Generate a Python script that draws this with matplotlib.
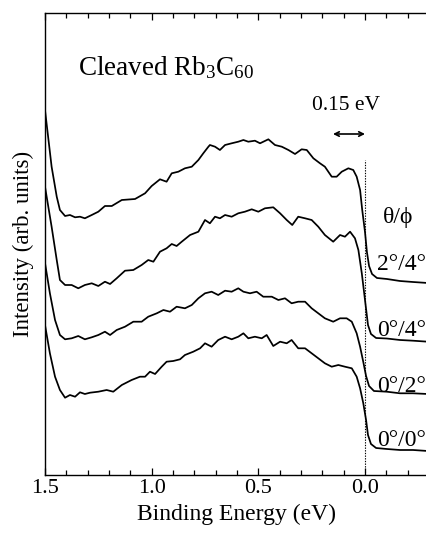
import numpy as np
import matplotlib
matplotlib.use("Agg")
import matplotlib.pyplot as plt
from matplotlib.ticker import MultipleLocator

plt.rcParams['font.family'] = ['Liberation Serif', 'DejaVu Serif']
plt.rcParams['mathtext.fontset'] = 'custom'
plt.rcParams['mathtext.rm'] = 'Liberation Serif'
plt.rcParams['mathtext.it'] = 'Liberation Serif:italic'

# ------------------------------------------------------------
# spectra: binding energy (eV) / intensity (arb.)
# ------------------------------------------------------------
e_24 = [1.500, 1.469, 1.445, 1.430, 1.406, 1.383, 1.359, 1.336, 1.313, 1.281,
        1.250, 1.219, 1.187, 1.140, 1.078, 1.031, 1.000, 0.961, 0.930, 0.906,
        0.875, 0.844, 0.812, 0.781, 0.758, 0.734, 0.727, 0.703, 0.680, 0.656,
        0.625, 0.594, 0.570, 0.547, 0.516, 0.492, 0.453, 0.422, 0.390, 0.359,
        0.328, 0.297, 0.273, 0.242, 0.211, 0.188, 0.156, 0.133, 0.109, 0.078,
        0.055, 0.039, 0.023, 0.013, 0.000, -0.009, -0.019, -0.033, -0.056, -0.103,
        -0.164, -0.225, -0.295]
i_24 = [3.650, 3.083, 2.783, 2.650, 2.590, 2.600, 2.577, 2.583, 2.567, 2.600,
        2.633, 2.690, 2.690, 2.750, 2.760, 2.817, 2.890, 2.957, 2.933, 3.017,
        3.033, 3.067, 3.083, 3.150, 3.217, 3.283, 3.300, 3.283, 3.250, 3.300,
        3.317, 3.333, 3.350, 3.333, 3.343, 3.317, 3.357, 3.300, 3.283, 3.250,
        3.210, 3.257, 3.250, 3.167, 3.117, 3.083, 2.983, 2.983, 3.033, 3.067,
        3.050, 2.983, 2.850, 2.650, 2.430, 2.230, 2.090, 2.010, 1.970, 1.960,
        1.940, 1.930, 1.920]

e_04 = [1.500, 1.469, 1.445, 1.430, 1.406, 1.375, 1.344, 1.313, 1.281, 1.250,
        1.219, 1.195, 1.164, 1.125, 1.086, 1.047, 1.016, 0.992, 0.961, 0.930,
        0.906, 0.883, 0.859, 0.820, 0.781, 0.750, 0.727, 0.703, 0.680, 0.656,
        0.625, 0.594, 0.563, 0.531, 0.500, 0.469, 0.430, 0.398, 0.367, 0.341,
        0.313, 0.281, 0.250, 0.219, 0.188, 0.149, 0.117, 0.094, 0.070, 0.047,
        0.031, 0.015, 0.000, -0.014, -0.028, -0.052, -0.102, -0.164, -0.225, -0.295]
i_04 = [2.883, 2.483, 2.150, 1.950, 1.900, 1.900, 1.867, 1.900, 1.917, 1.890,
        1.933, 1.910, 1.967, 2.043, 2.050, 2.100, 2.150, 2.133, 2.233, 2.267,
        2.310, 2.290, 2.333, 2.400, 2.433, 2.550, 2.517, 2.583, 2.567, 2.600,
        2.583, 2.617, 2.633, 2.657, 2.633, 2.667, 2.677, 2.617, 2.550, 2.500,
        2.583, 2.567, 2.550, 2.483, 2.400, 2.333, 2.400, 2.383, 2.433, 2.367,
        2.250, 2.017, 1.750, 1.500, 1.410, 1.370, 1.365, 1.350, 1.343, 1.333]

e_02 = [1.500, 1.477, 1.453, 1.430, 1.406, 1.375, 1.344, 1.313, 1.281, 1.250,
        1.219, 1.195, 1.164, 1.125, 1.086, 1.047, 1.016, 0.976, 0.945, 0.914,
        0.883, 0.844, 0.812, 0.781, 0.750, 0.719, 0.688, 0.656, 0.625, 0.594,
        0.570, 0.539, 0.508, 0.477, 0.437, 0.406, 0.375, 0.344, 0.313, 0.281,
        0.250, 0.219, 0.188, 0.149, 0.117, 0.086, 0.062, 0.039, 0.023, 0.008,
        -0.005, -0.019, -0.042, -0.102, -0.164, -0.225, -0.295]
i_02 = [2.120, 1.817, 1.550, 1.400, 1.357, 1.367, 1.390, 1.357, 1.377, 1.400,
        1.433, 1.400, 1.450, 1.483, 1.533, 1.533, 1.583, 1.617, 1.650, 1.633,
        1.683, 1.667, 1.700, 1.767, 1.817, 1.833, 1.800, 1.843, 1.833, 1.867,
        1.833, 1.817, 1.833, 1.783, 1.783, 1.750, 1.767, 1.717, 1.733, 1.733,
        1.667, 1.617, 1.567, 1.533, 1.567, 1.567, 1.533, 1.417, 1.283, 1.130,
        0.990, 0.890, 0.840, 0.833, 0.817, 0.817, 0.810]

e_00 = [1.500, 1.477, 1.453, 1.430, 1.406, 1.383, 1.359, 1.336, 1.313, 1.289,
        1.250, 1.211, 1.180, 1.140, 1.094, 1.055, 1.031, 1.008, 0.984, 0.953,
        0.930, 0.899, 0.867, 0.844, 0.805, 0.773, 0.750, 0.719, 0.688, 0.656,
        0.625, 0.594, 0.570, 0.547, 0.516, 0.484, 0.461, 0.430, 0.398, 0.367,
        0.344, 0.313, 0.281, 0.250, 0.219, 0.188, 0.156, 0.125, 0.094, 0.062,
        0.039, 0.023, 0.008, -0.005, -0.014, -0.028, -0.052, -0.103, -0.164, -0.225,
        -0.295]
i_00 = [1.500, 1.217, 0.983, 0.850, 0.773, 0.800, 0.783, 0.827, 0.810, 0.823,
        0.833, 0.850, 0.833, 0.900, 0.950, 0.983, 0.983, 1.033, 1.010, 1.083,
        1.133, 1.140, 1.157, 1.200, 1.233, 1.267, 1.317, 1.283, 1.350, 1.383,
        1.357, 1.383, 1.417, 1.367, 1.383, 1.367, 1.400, 1.290, 1.333, 1.317,
        1.350, 1.267, 1.267, 1.217, 1.167, 1.117, 1.083, 1.100, 1.083, 1.067,
        0.983, 0.867, 0.717, 0.550, 0.400, 0.310, 0.270, 0.260, 0.250, 0.250,
        0.240]

spectra = [(e_24, i_24), (e_04, i_04), (e_02, i_02), (e_00, i_00)]

angle_labels = [r"2°/4°", r"0°/4°", r"0°/2°", r"0°/0°"]
angle_label_y = [2.10, 1.45, 0.88, 0.34]

# ------------------------------------------------------------
fig = plt.figure(figsize=(4.27, 5.34), dpi=100)
ax = fig.add_axes([45/427, 59/534, 384/427, 462/534])

for e, i in spectra:
    ax.plot(e, i, color='black', lw=1.25, solid_joinstyle='round')

# Fermi level marker
ax.plot([0.0, 0.0], [0.0, 3.15], color='black', lw=0.8, ls=(0, (1.2, 1.2)))

ax.set_xlim(1.5, -0.3)
ax.set_ylim(0, 4.62)

ax.xaxis.set_major_locator(MultipleLocator(0.5))
ax.xaxis.set_minor_locator(MultipleLocator(0.1))
ax.xaxis.set_major_formatter(matplotlib.ticker.FormatStrFormatter('%.1f'))
ax.set_yticks([])
ax.tick_params(axis='x', which='both', direction='in', top=True, bottom=True,
               labelsize=16, pad=3, width=0.9)
ax.tick_params(axis='x', which='major', length=5)
ax.tick_params(axis='x', which='minor', length=3.5)
for sp in ax.spines.values():
    sp.set_linewidth(1.0)

ax.set_xlabel("Binding Energy (eV)", fontsize=17, labelpad=4)
ax.set_ylabel("Intensity (arb. units)", fontsize=16.5, labelpad=8)

ax.text(1.345, 4.0, r"Cleaved Rb$_3$C$_{60}$", fontsize=19.5, ha='left', va='baseline')

# 0.15 eV resolution bar
ax.annotate("", xy=(0.0, 3.41), xytext=(0.15, 3.41),
            arrowprops=dict(arrowstyle='<->', color='black', lw=1.2,
                            mutation_scale=8, shrinkA=0, shrinkB=0))
ax.text(0.089, 3.69, "0.15 eV", fontsize=15.5, ha='center', va='center')

ax.text(-0.155, 2.57, "θ/ϕ", fontsize=17, ha='center', va='center')
for lab, yy in zip(angle_labels, angle_label_y):
    ax.text(-0.055, yy, lab, fontsize=17, ha='left', va='center')

fig.savefig("out.png", dpi=100)
